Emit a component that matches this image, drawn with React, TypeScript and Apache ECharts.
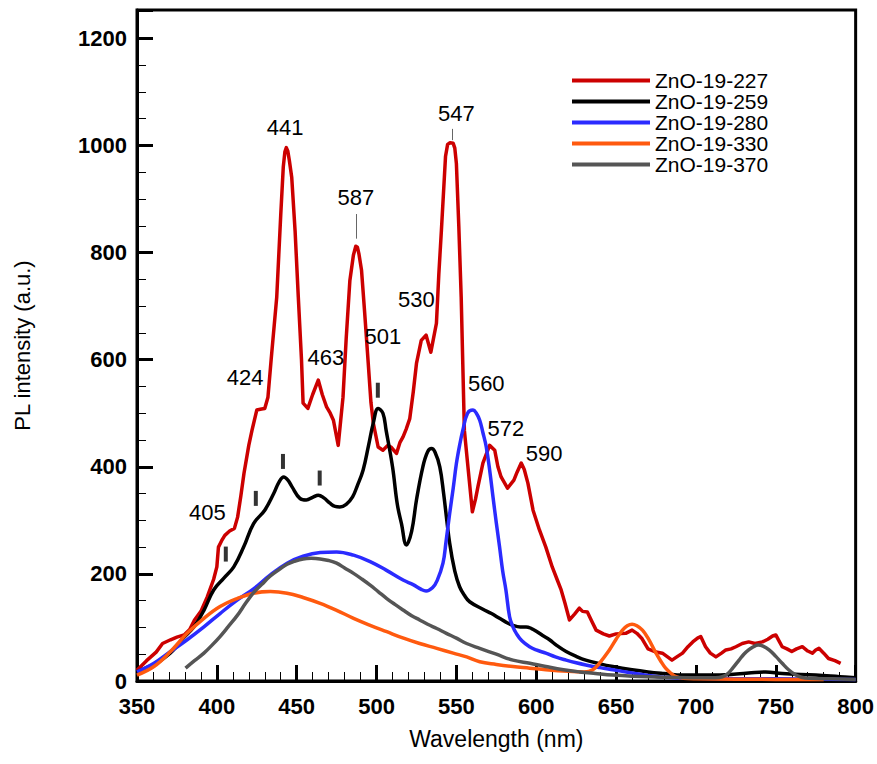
import React, { useEffect, useRef } from 'react';
import * as echarts from 'echarts';

const seriesNames = ['ZnO-19-227', 'ZnO-19-259', 'ZnO-19-280', 'ZnO-19-330', 'ZnO-19-370'];
const seriesColors = ['#cc0000', '#000000', '#2b2bff', '#ff5a0f', '#555555'];

const zno227: [number, number][] = [
  [350, 20], [356, 38], [362, 54], [366, 70], [371, 77], [375, 82], [379.5, 86], [383, 96], [386, 114], [390, 130],
  [394, 157], [398, 190], [400, 213], [401, 250], [403, 262], [405, 272], [408, 280], [411, 285], [413, 306], [415, 345],
  [417, 388], [420, 440], [422, 468], [425, 506], [428, 508], [430, 509], [432, 530], [434, 600], [437.5, 717], [440, 870],
  [441.6, 960], [442.6, 988], [443.5, 996], [444.4, 990], [445.4, 972], [446.9, 940], [449, 840], [451, 717], [453, 600], [454, 519],
  [457, 509], [460, 535], [463.5, 562], [466, 535], [468.7, 512], [471, 500], [473, 487], [476, 440], [479, 530], [481, 640],
  [483.3, 748], [485.5, 795], [487, 812], [488, 810], [489, 797], [490.6, 767], [492.5, 690], [494.8, 593], [496.5, 520], [498, 481],
  [501, 437], [504, 431], [507, 440], [509, 437], [512.5, 425], [514.6, 445], [516.6, 456], [518.5, 470], [520.8, 490], [523, 540],
  [525, 593], [528, 636], [531, 646], [534, 614], [537.5, 668], [539, 760], [540.6, 841], [543.2, 980], [544.5, 1002], [546, 1005],
  [548, 1004], [549, 995], [550, 966], [551.5, 850], [553, 717], [555, 468], [557, 407], [560, 316], [562, 340], [563.5, 363],
  [566.6, 407], [570.8, 440], [574, 431], [576, 400], [578, 381], [582, 360], [586, 375], [588, 390], [590.6, 407], [592.5, 395],
  [594.8, 369], [598, 319], [602, 282], [606, 250], [610, 213], [613, 190], [615.6, 170], [618, 145], [620.8, 114], [624, 125],
  [627, 136], [629, 130], [632, 129], [635, 110], [637.5, 95], [642, 88], [645.8, 84], [650, 88], [656, 89], [660, 95],
  [663, 89], [666, 80], [670, 60], [675, 54], [679, 52], [685, 39], [688, 45], [691.6, 52], [695, 64], [698, 73],
  [701, 80], [703, 83], [706, 64], [709, 52], [712.5, 45], [716, 52], [718.7, 58], [722, 60], [725, 64], [729, 70],
  [733, 73], [737, 70], [741.6, 73], [745, 78], [748, 84], [750, 86], [752, 75], [754, 64], [757, 60], [760, 55],
  [763, 60], [766.6, 64], [770, 56], [772.9, 52], [775, 58], [777, 61], [780, 52], [783, 42], [787, 38], [790.6, 33],
];

const zno259: [number, number][] = [
  [350, 17], [356, 25], [362.7, 34], [370.8, 52], [375, 65], [379, 80], [385.6, 101], [391.9, 132], [398, 170], [404.4, 192],
  [410.6, 213], [416.9, 251], [423, 294], [430, 319], [435.6, 350], [439, 372], [441.9, 381], [444.5, 375], [447, 363], [452, 341],
  [456, 338], [460, 343], [463.5, 347], [467, 342], [470.8, 332], [474, 326], [477, 325], [481, 330], [485, 344], [488, 365],
  [491.6, 394], [495, 440], [497.9, 481], [501, 509], [504, 500], [506, 468], [510, 400], [513, 330], [515.6, 294], [518.7, 254],
  [522, 280], [525, 338], [529, 400], [532, 428], [534.4, 434], [536.5, 428], [539.6, 400], [542, 350], [545.8, 257], [549, 205],
  [552, 176], [555, 160], [558.3, 148], [566.6, 134], [572, 126], [577, 117], [581, 110], [585.4, 104], [590, 101], [593.7, 101],
  [597, 98], [600, 93], [604, 85], [608.3, 77], [613, 66], [618.7, 55], [625, 46], [631, 39], [640, 32], [648, 27],
  [660, 21], [670, 17], [680, 14], [691.6, 11], [712.5, 11], [733, 15], [743.7, 17], [754, 14], [775, 11], [790, 8], [800, 6],
];

const zno280: [number, number][] = [
  [350, 17], [360.6, 33], [371, 55], [381.4, 77], [391.9, 101], [402, 126], [412.7, 151], [423, 172], [433.5, 198], [444, 220],
  [454, 233], [464.7, 240], [475, 241], [485.6, 235], [496, 223], [506, 207], [516.9, 188], [522.9, 180], [528, 171], [531, 168],
  [535, 174], [538, 188], [541.6, 220], [543.5, 260], [545.8, 313], [548, 360], [550, 406], [552, 440], [554, 468], [557, 500],
  [560.4, 506], [562.5, 500], [564.6, 487], [566.5, 465], [568.7, 437], [571, 390], [572.9, 344], [575, 295], [577, 251], [579, 205],
  [581, 170], [583.3, 120], [585.4, 101], [587.5, 89], [591, 75], [595.8, 64], [600, 58], [606, 52], [612, 45], [618.7, 39],
  [625, 34], [631, 30], [640, 25], [648, 21], [658, 16], [668.8, 11], [680, 7], [700, 5], [750, 4], [800, 3],
];

const zno330: [number, number][] = [
  [350, 11], [360.6, 27], [371, 55], [381.4, 89], [391.9, 117], [402, 139], [412.7, 154], [423, 164], [433.5, 167], [444, 164],
  [454, 156], [464.7, 145], [475, 132], [485.6, 117], [496, 104], [506.4, 92], [516.9, 80], [527, 70], [537.7, 61], [548, 52],
  [556.4, 45], [564.6, 36], [575, 31], [585.4, 27], [596, 24], [606, 21], [620, 18], [630, 17], [635.4, 21], [640, 35],
  [645.8, 58], [650, 78], [654, 95], [657, 103], [660, 106], [663, 103], [666.5, 95], [670, 80], [675, 52], [678, 37],
  [681, 24], [684.5, 14], [687.5, 8], [692, 5], [700, 4], [750, 3], [780, 3],
];

const zno370: [number, number][] = [
  [380.4, 24], [386, 38], [391.9, 52], [397, 67], [402, 83], [407, 101], [412.7, 122], [418, 145], [423, 165], [428, 180],
  [433.5, 196], [439, 208], [444, 218], [449, 224], [454, 228], [459, 229], [464.7, 228], [470, 225], [475, 220], [480, 211],
  [485.6, 201], [491, 190], [496, 179], [501, 167], [506.4, 154], [511.5, 143], [516.9, 132], [522, 122], [527, 114], [532, 106],
  [537.7, 98], [543.7, 89], [550, 80], [556.4, 70], [564.6, 61], [575, 50], [585.4, 39], [596, 33], [606, 27], [617, 21],
  [627, 17], [637, 14], [648, 11], [660, 9], [680, 7], [700, 6], [712, 6], [716.6, 8], [720, 14], [723, 24],
  [727, 39], [730, 50], [733, 58], [736, 64], [739, 67], [742, 65], [745.8, 58], [750, 46], [754, 33], [758, 21],
  [762.5, 11], [766, 7], [770.8, 5], [785, 4], [800, 3],
];

// peak annotation texts and their anchor (wavelength, intensity)
const peakLabelText = ['441', '587', '547', '530', '501', '463', '424', '405', '560', '572', '590'];
const peakLabelX = [442.7, 487, 550, 525, 504, 468.3, 417.7, 394, 568.7, 581, 605];
const peakLabelY = [1034, 903, 1060, 712, 644, 604, 567, 314, 556, 471, 424];

// short black marker bars on the ZnO-19-259 curve
const markerX = [405.6, 424.4, 441.4, 464.4, 500.8];
const markerY = [237, 341, 410, 379, 543];

// leader lines: [wavelength, top, bottom]
const leaderLines: [number, number, number][] = [
  [547.1, 1031, 1010],
  [487, 872, 826],
];

const xRange = { min: 350, max: 800, interval: 50 };
const yRange = { min: 0, max: 1253, interval: 200 };

const regular = "'Liberation Sans', Arial, sans-serif";

export default function App() {
  const ref = useRef<HTMLDivElement>(null);
  useEffect(() => {
    const chart = echarts.init(ref.current!, null, { renderer: 'svg' });
    const dataSets = [zno227, zno259, zno280, zno330, zno370];
    const lines: any[] = dataSets.map((d, i) => ({
      type: 'line',
      name: seriesNames[i],
      data: d,
      smooth: i === 0 ? false : 0.4,
      showSymbol: false,
      symbol: 'none',
      lineStyle: { color: seriesColors[i], width: 3.5, join: 'round' },
      itemStyle: { color: seriesColors[i] },
      z: 2,
      ...(i === 0
        ? {
            markLine: {
              silent: true,
              symbol: 'none',
              label: { show: false },
              lineStyle: { color: '#666', width: 1, type: 'solid' },
              data: leaderLines.map((l) => [{ coord: [l[0], l[1]] }, { coord: [l[0], l[2]] }]),
            },
          }
        : {}),
    }));
    const tickLabel = { fontSize: 22, fontWeight: 'bold', fontFamily: regular, color: '#000' };
    chart.setOption({
      animation: false,
      backgroundColor: '#fff',
      grid: { left: 137, right: 20, top: 10, bottom: 83, show: true, borderColor: '#000', borderWidth: 3 },
      legend: {
        data: seriesNames,
        orient: 'vertical',
        left: 567,
        top: 65,
        icon: 'rect',
        itemWidth: 78,
        itemHeight: 4,
        itemGap: 0,
        textStyle: { fontSize: 21, fontFamily: regular, color: '#000', lineHeight: 21 },
      },
      xAxis: {
        type: 'value',
        min: xRange.min,
        max: xRange.max,
        interval: xRange.interval,
        name: 'Wavelength (nm)',
        nameLocation: 'middle',
        nameGap: 46,
        nameMoveOverlap: false,
        nameTextStyle: { fontSize: 23, fontFamily: regular, color: '#000', verticalAlign: 'top' },
        axisLine: { lineStyle: { color: '#000', width: 3 } },
        axisTick: { inside: true, length: 16, lineStyle: { color: '#000', width: 3 } },
        minorTick: { show: true, splitNumber: 5, length: 9, lineStyle: { color: '#000', width: 1 } },
        splitLine: { show: false },
        axisLabel: { margin: 14, showMinLabel: true, showMaxLabel: true, ...tickLabel },
      },
      yAxis: {
        type: 'value',
        min: yRange.min,
        max: yRange.max,
        interval: yRange.interval,
        name: 'PL intensity (a.u.)',
        nameLocation: 'middle',
        nameGap: 104,
        nameMoveOverlap: false,
        nameTextStyle: { fontSize: 22, fontFamily: regular, color: '#000' },
        axisLine: { lineStyle: { color: '#000', width: 3 } },
        axisTick: { inside: true, length: 16, lineStyle: { color: '#000', width: 3 } },
        minorTick: { show: true, splitNumber: 4, length: 9, lineStyle: { color: '#000', width: 1 } },
        splitLine: { show: false },
        axisLabel: {
          margin: 10,
          ...tickLabel,
          formatter: (v: number) => (v % 200 === 0 ? String(v) : ''),
        },
      },
      series: [
        ...lines,
        {
          type: 'scatter',
          name: 'markers',
          data: markerX.map((x, i) => [x, markerY[i]]),
          symbol: 'rect',
          symbolSize: [4, 15],
          itemStyle: { color: '#000' },
          silent: true,
          z: 4,
        },
        {
          type: 'scatter',
          name: 'peaks',
          data: peakLabelX.map((x, i) => [x, peakLabelY[i], peakLabelText[i]]),
          symbolSize: 1,
          itemStyle: { color: 'rgba(0,0,0,0)' },
          label: {
            show: true,
            position: 'inside',
            formatter: (p: any) => p.data[2],
            fontSize: 22,
            fontFamily: regular,
            color: '#000',
            opacity: 1,
          },
          silent: true,
          z: 5,
        },
      ],
    });
    return () => chart.dispose();
  }, []);
  return <div ref={ref} style={{ position: 'fixed', left: 0, top: 0, width: 877, height: 764 }} />;
}
